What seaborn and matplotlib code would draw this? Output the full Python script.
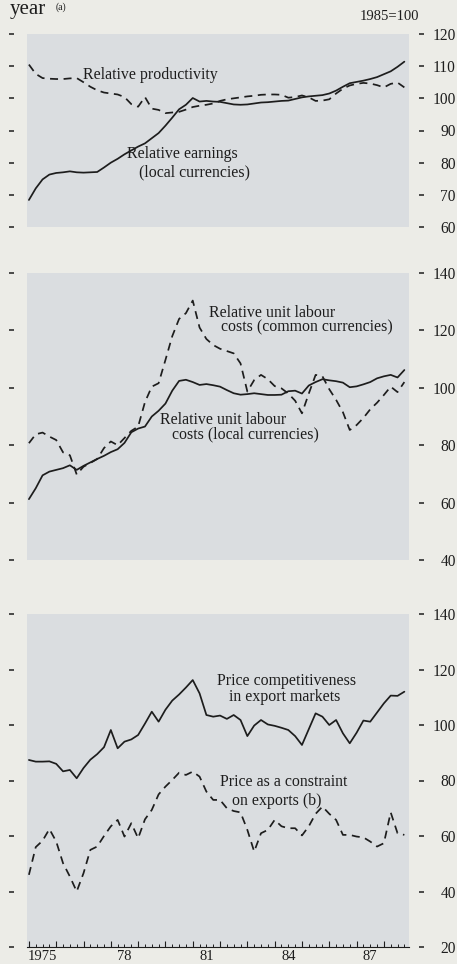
import numpy as np
import pandas as pd
import matplotlib
matplotlib.use("Agg")
import matplotlib.pyplot as plt
import matplotlib.transforms as mtransforms
from matplotlib.ticker import FixedLocator
import seaborn as sns

# ---------------- data (quarterly, 1975 Q1 - 1988 Q4, 1985=100) ----------------
first_year = 1975
n_quarters = 56
quarter = first_year + np.arange(n_quarters) / 4.0

rel_earnings = [68.4, 72.0, 74.8, 76.3, 76.8, 77.0, 77.3, 77.0, 76.9, 77.0,
                77.1, 78.5, 80.0, 81.2, 82.6, 83.8, 85.0, 86.0, 87.6, 89.2,
                91.5, 94.0, 96.6, 98.0, 100.1, 99.0, 99.2, 99.0, 98.9, 98.5,
                98.1, 98.0, 98.1, 98.4, 98.7, 98.8, 99.0, 99.2, 99.3, 99.8,
                100.3, 100.6, 100.8, 101.0, 101.5, 102.4, 103.6, 104.7, 105.1, 105.5,
                106.0, 106.6, 107.5, 108.4, 109.8, 111.4]
rel_productivity = [110.5, 107.6, 106.3, 106.1, 106.0, 106.0, 106.2, 106.3, 105.0, 103.6,
                    102.5, 101.8, 101.5, 101.2, 100.4, 98.2, 97.4, 100.4, 96.8, 96.4,
                    95.4, 95.6, 95.8, 96.5, 97.3, 97.7, 98.0, 98.4, 99.2, 99.7,
                    100.0, 100.3, 100.6, 100.8, 101.1, 101.2, 101.2, 101.1, 100.2, 100.4,
                    100.9, 100.3, 99.2, 99.3, 99.7, 101.5, 103.0, 104.0, 104.5, 104.8,
                    104.6, 104.1, 103.4, 104.5, 104.9, 103.4]

ulc_local = [61.2, 65.0, 69.5, 70.8, 71.4, 72.0, 73.0, 71.4, 72.8, 74.0,
             75.2, 76.3, 77.6, 78.6, 80.8, 84.5, 85.8, 86.5, 90.0, 92.0,
             94.5, 99.0, 102.4, 102.8, 102.0, 101.0, 101.3, 100.9, 100.4, 99.2,
             98.1, 97.6, 97.8, 98.1, 97.8, 97.5, 97.5, 97.6, 98.8, 99.0,
             98.0, 100.8, 102.0, 103.0, 102.6, 102.3, 101.8, 100.2, 100.5, 101.2,
             102.0, 103.3, 104.0, 104.5, 103.6, 106.2]
ulc_common = [80.7, 83.8, 84.4, 83.0, 81.8, 77.5, 76.5, 69.8, 72.5, 73.8,
              75.2, 79.0, 81.3, 80.0, 82.5, 85.0, 86.5, 95.0, 100.4, 101.6,
              109.7, 118.0, 124.0, 126.0, 130.4, 121.0, 117.0, 114.9, 113.6, 112.8,
              112.0, 108.5, 98.7, 102.7, 104.5, 103.0, 100.6, 99.8, 98.0, 95.5,
              91.1, 98.0, 104.5, 104.0, 99.5, 95.8, 91.5, 85.3, 87.0, 89.5,
              92.5, 94.8, 97.5, 100.4, 98.5, 102.0]

price_comp = [87.4, 86.8, 86.8, 86.9, 86.0, 83.3, 83.8, 80.8, 84.5, 87.5,
              89.5, 92.0, 98.2, 91.6, 94.0, 94.8, 96.4, 100.5, 104.8, 101.2,
              105.5, 108.8, 111.0, 113.5, 116.2, 111.4, 103.6, 103.0, 103.4, 102.2,
              103.6, 101.8, 96.0, 99.8, 101.8, 100.2, 99.7, 99.0, 98.2, 96.0,
              92.8, 98.5, 104.2, 103.0, 100.0, 101.8, 97.0, 93.4, 97.2, 101.6,
              101.2, 104.5, 107.8, 110.6, 110.5, 112.0]
price_constraint = [46.0, 56.0, 58.3, 62.5, 58.0, 50.2, 45.4, 40.0, 46.6, 55.0,
                    56.2, 60.0, 63.5, 65.8, 59.8, 64.6, 59.2, 66.0, 69.4, 75.0,
                    77.8, 80.2, 82.8, 82.0, 83.2, 81.4, 76.0, 73.0, 73.0, 70.0,
                    69.0, 68.5, 62.2, 54.4, 61.0, 62.2, 65.8, 63.5, 62.8, 62.8,
                    60.2, 63.5, 68.0, 70.6, 68.0, 65.8, 60.4, 60.4, 59.8, 59.5,
                    58.0, 56.2, 57.4, 68.5, 61.0, 60.4]

year_labels = ["1975", "78", "81", "84", "87"]
year_label_years = [1975, 1978, 1981, 1984, 1987]

panel1_ticks = [60, 70, 80, 90, 100, 110, 120]
panel2_ticks = [40, 60, 80, 100, 120, 140]
panel3_ticks = [20, 40, 60, 80, 100, 120, 140]

df = pd.DataFrame({
    "quarter": quarter,
    "rel_earnings": rel_earnings,
    "rel_productivity": rel_productivity,
    "ulc_local": ulc_local,
    "ulc_common": ulc_common,
    "price_comp": price_comp,
    "price_constraint": price_constraint,
})

# ---------------- style ----------------
sns.set_theme(style="white")
plt.rcParams["font.family"] = ["Liberation Serif", "DejaVu Serif"]

INK = "#1d1d1d"
PAPER = "#ECECE7"
SHADE = "#DADDE0"
DASH = (0, (4.6, 3.2))
LW = 1.25
FS = 11.4

W, H = 457, 964
fig = plt.figure(figsize=(W / 100, H / 100), dpi=100, facecolor=PAPER)

def px_axes(left, right, top, bottom):
    return fig.add_axes([left / W, 1 - bottom / H, (right - left) / W, (bottom - top) / H])

ax1 = px_axes(27, 409, 34, 227)
ax2 = px_axes(27, 409, 273, 560)
ax3 = px_axes(27, 409, 614, 947)

XLIM = (1974.93, 1988.92)

def style(ax, lo, hi, ticks):
    ax.set_facecolor(SHADE)
    ax.set_xlim(*XLIM)
    ax.set_ylim(lo, hi)
    ax.set_xlabel("")
    ax.set_ylabel("")
    ax.spines["top"].set_visible(False)
    ax.spines["bottom"].set_visible(False)
    ax.spines["right"].set_position(("outward", 7.2))
    ax.spines["left"].set_position(("outward", 9.5))
    ax.spines["right"].set_color("none")
    ax.spines["left"].set_color("none")
    ax.yaxis.set_major_locator(FixedLocator(ticks))
    ax.tick_params(axis="y", which="major", direction="out", length=3.6, width=1.1,
                   color=INK, left=True, right=True, labelleft=False, labelright=True,
                   pad=23, labelsize=11.2, labelcolor=INK)
    for t in ax.yaxis.get_major_ticks():
        t.label2.set_horizontalalignment("right")
    ax.tick_params(axis="x", which="both", bottom=False, top=False,
                   labelbottom=False)
    ax.grid(False)

txt = dict(fontsize=FS, color=INK, ha="left", va="center", multialignment="left")

# panel 1
sns.lineplot(data=df, x="quarter", y="rel_earnings", ax=ax1, color=INK, lw=LW)
sns.lineplot(data=df, x="quarter", y="rel_productivity", ax=ax1, color=INK, lw=LW,
             linestyle=DASH)
style(ax1, 60, 120, panel1_ticks)
ax1.text(1976.98, 107.3, "Relative productivity", **txt)
ax1.text(1978.59, 79.9, "Relative earnings\n   (local currencies)", linespacing=1.2, **txt)

# panel 2
sns.lineplot(data=df, x="quarter", y="ulc_local", ax=ax2, color=INK, lw=LW)
sns.lineplot(data=df, x="quarter", y="ulc_common", ax=ax2, color=INK, lw=LW,
             linestyle=DASH)
style(ax2, 40, 140, panel2_ticks)
ax2.text(1981.59, 123.6, "Relative unit labour\n   costs (common currencies)",
         linespacing=0.92, **txt)
ax2.text(1979.80, 86.3, "Relative unit labour\n   costs (local currencies)",
         linespacing=0.9, **txt)

# panel 3
sns.lineplot(data=df, x="quarter", y="price_comp", ax=ax3, color=INK, lw=LW)
sns.lineplot(data=df, x="quarter", y="price_constraint", ax=ax3, color=INK, lw=LW,
             linestyle=DASH)
style(ax3, 20, 140, panel3_ticks)
ax3.text(1981.89, 113.05, "Price competitiveness\n   in export markets",
         linespacing=1.0, **txt)
ax3.text(1981.99, 76.1, "Price as a constraint\n   on exports (b)",
         linespacing=1.2, **txt)

ax3.spines["bottom"].set_visible(True)
ax3.spines["bottom"].set_color(INK)
ax3.spines["bottom"].set_linewidth(0.8)
ax3.xaxis.set_major_locator(FixedLocator(list(range(1975, 1989))))
ax3.xaxis.set_minor_locator(FixedLocator(list(quarter)))
ax3.tick_params(axis="x", which="major", bottom=True, direction="in", length=4.0,
                width=0.8, color=INK, labelbottom=False)
ax3.tick_params(axis="x", which="minor", bottom=True, direction="in", length=2.0,
                width=0.7, color=INK)
trans = mtransforms.blended_transform_factory(ax3.transData, ax3.transAxes)
for yr, lab in zip(year_label_years, year_labels):
    ax3.text(yr + 0.5, -0.008, lab, transform=trans, ha="center", va="top",
             fontsize=10.5, color=INK)

# header texts
fig.text(360 / W, 1 - 17 / H, "1985=100", fontsize=10.5, color=INK, ha="left", va="center")
fig.text(10 / W, 1 - 14 / H, "year", fontsize=15, color=INK, ha="left", va="baseline")
fig.text(56 / W, 1 - 10 / H, "(a)", fontsize=7, color=INK, ha="left", va="baseline")

fig.savefig("out.png", dpi=100, facecolor=PAPER)
